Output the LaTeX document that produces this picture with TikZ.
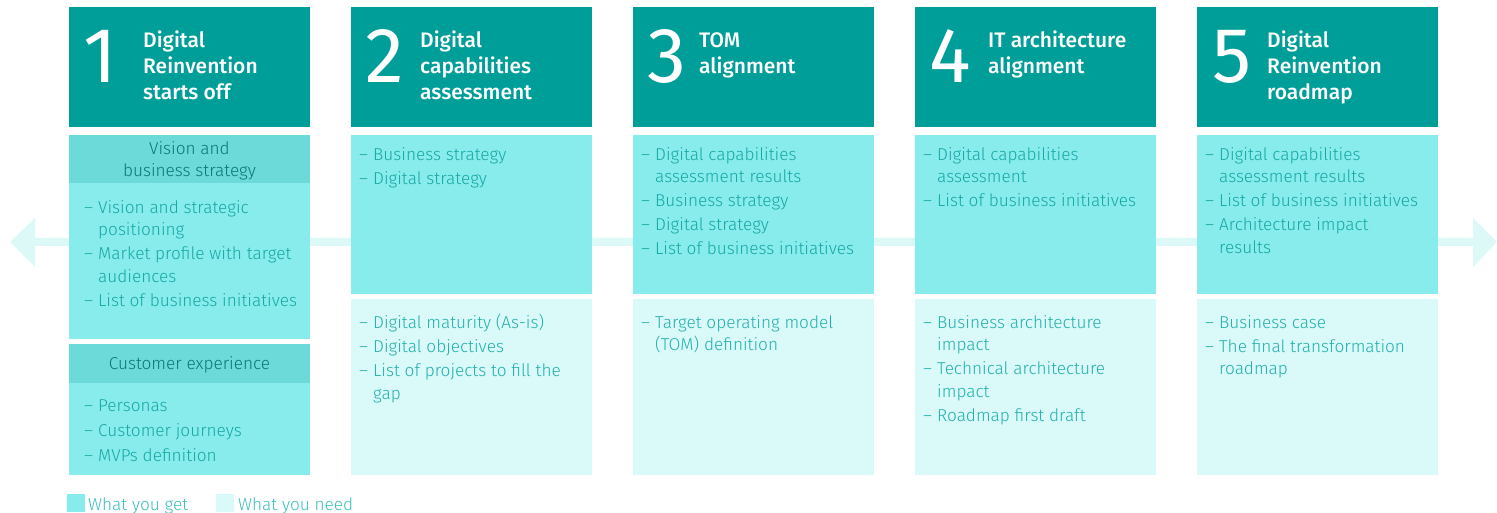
\documentclass[tikz,border=0pt]{standalone}
\usepackage{fontspec}
\setmainfont{Fira Sans}
\newfontfamily\lightf{Fira Sans Light}
\newfontfamily\regf{Fira Sans}
\newfontfamily\medf{Fira Sans Medium}
\definecolor{hdrc}{HTML}{009E99}
\definecolor{getc}{HTML}{88ECEC}
\definecolor{needc}{HTML}{DAF9F9}
\definecolor{subc}{HTML}{6BDAD8}
\definecolor{txtc}{HTML}{16A8A4}
\definecolor{needtxtc}{HTML}{22B1AC}
\definecolor{subtxtc}{HTML}{0C7774}
\definecolor{arrc}{HTML}{DCF9F8}
\definecolor{legtxtc}{HTML}{3BBFBB}
\newcommand\itm[1]{\makebox[14pt][l]{–}#1}
\newcommand\cnt{\hspace*{14pt}}
\newcommand\stt{\rule{0pt}{14pt}}
\newcommand\ttst{\rule{0pt}{17pt}}
\begin{document}
\begin{tikzpicture}[x=1pt,y=-1pt,
  hdr/.style={fill=hdrc,anchor=north west,inner sep=0,minimum width=241pt,minimum height=120pt},
  getbox/.style={fill=getc,anchor=north west,inner sep=0,minimum width=241pt},
  needbox/.style={fill=needc,anchor=north west,inner sep=0,minimum width=241pt},
  subbox/.style={fill=subc,anchor=north west,inner sep=0,minimum width=241pt},
  num/.style={anchor=base west,inner sep=0,text=white,font=\regf\fontsize{78}{78}\selectfont},
  ttl/.style={anchor=north west,inner sep=0,text=white,align=left,font=\medf\fontsize{21}{26}\selectfont},
  lst/.style={anchor=north west,inner sep=0,text=txtc,align=left,font=\lightf\fontsize{17.2}{22.5}\selectfont},
  nlst/.style={lst,text=needtxtc},
  subt/.style={anchor=north,inner sep=0,text=subtxtc,align=center,font=\lightf\fontsize{17.2}{22.5}\selectfont},
  legsq/.style={fill=#1,anchor=north west,inner sep=0,minimum width=18pt,minimum height=18pt},
  legt/.style={anchor=base west,inner sep=0,text=legtxtc,font=\lightf\fontsize{17.2}{20}\selectfont}
]
\useasboundingbox (0,0) rectangle (1497,513);
% background arrow
\fill[arrc] (10,242) -- (35,218) -- (35,238) -- (1473,238) -- (1473,218) -- (1497,242)
  -- (1473,267) -- (1473,246) -- (35,246) -- (35,267) -- cycle;

% headers
\foreach \i/\x in {1/69,2/351,3/633,4/915,5/1197}{
  \node[hdr] (h\i) at (\x,7) {};
}
\node[num] (n1) at (83,83) {1};
\node[num] (n2) at (365,83) {2};
\node[num] (n3) at (647,83) {3};
\node[num] (n4) at (929,83) {4};
\node[num] (n5) at (1212,83) {5};
\node[ttl] (t1) at (143,30) {\ttst Digital\\Reinvention\\starts off};
\node[ttl] (t2) at (420,30) {\ttst Digital\\capabilities\\assessment};
\node[ttl] (t3) at (699,30) {\ttst TOM\\alignment};
\node[ttl] (t4) at (988,30) {\ttst IT architecture\\alignment};
\node[ttl] (t5) at (1267,30) {\ttst Digital\\Reinvention\\roadmap};

% column 1
\node[subbox,minimum height=48pt] (s1a) at (69,135) {};
\node[getbox,minimum height=156pt] (g1a) at (69,183) {};
\node[subbox,minimum height=39pt] (s1b) at (69,344) {};
\node[getbox,minimum height=92pt] (g1b) at (69,383) {};
\node[subt] (st1a) at (189.5,140) {\stt Vision and\\business strategy};
\node[subt] (st1b) at (189.5,355) {\stt Customer experience};
\node[lst] (l1a) at (84,199) {\stt\itm{Vision and strategic}\\\cnt positioning\\[1.5pt]\itm{Market profile with target}\\\cnt audiences\\[1.5pt]\itm{List of business initiatives}};
\node[lst] (l1b) at (84,397) {\stt\itm{Personas}\\[2.5pt]\itm{Customer journeys}\\[2.5pt]\itm{MVPs definition}};

% columns 2-5 boxes
\foreach \i/\x in {2/351,3/633,4/915,5/1197}{
  \node[getbox,minimum height=159pt] (g\i) at (\x,135) {};
  \node[needbox,minimum height=176pt] (d\i) at (\x,299) {};
}
% column 2
\node[lst] (l2a) at (359,146) {\stt\itm{Business strategy}\\[1.5pt]\itm{Digital strategy}};
\node[nlst] (l2b) at (359,314) {\stt\itm{Digital maturity (As-is)}\\[1.5pt]\itm{Digital objectives}\\[1.5pt]\itm{List of projects to fill the}\\\cnt gap};
% column 3
\node[lst] (l3a) at (641,146) {\stt\itm{Digital capabilities}\\\cnt assessment results\\[1.5pt]\itm{Business strategy}\\[1.5pt]\itm{Digital strategy}\\[1.5pt]\itm{List of business initiatives}};
\node[nlst] (l3b) at (641,314) {\stt\itm{Target operating model}\\\cnt (TOM) definition};
% column 4
\node[lst] (l4a) at (923,146) {\stt\itm{Digital capabilities}\\\cnt assessment\\[1.5pt]\itm{List of business initiatives}};
\node[nlst] (l4b) at (923,314) {\stt\itm{Business architecture}\\\cnt impact\\[1.5pt]\itm{Technical architecture}\\\cnt impact\\[1.5pt]\itm{Roadmap first draft}};
% column 5
\node[lst] (l5a) at (1205,146) {\stt\itm{Digital capabilities}\\\cnt assessment results\\[1.5pt]\itm{List of business initiatives}\\[1.5pt]\itm{Architecture impact}\\\cnt results};
\node[nlst] (l5b) at (1205,314) {\stt\itm{Business case}\\[1.5pt]\itm{The final transformation}\\\cnt roadmap};

% legend
\node[legsq=getc] (lg1) at (67,494) {};
\node[legt] (lt1) at (88,510) {What you get};
\node[legsq=needc] (lg2) at (216,494) {};
\node[legt] (lt2) at (238,510) {What you need};
\end{tikzpicture}
\end{document}
